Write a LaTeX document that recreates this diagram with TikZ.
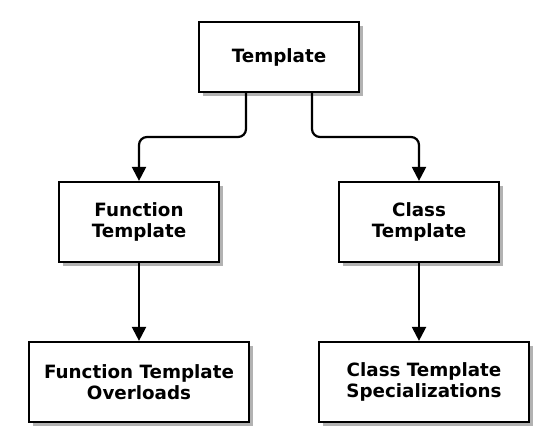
\documentclass[tikz,border=0pt]{standalone}
\usepackage{fontspec}
\setmainfont{DejaVu Sans}
\usetikzlibrary{arrows.meta,shadows}
\tikzset{
  box/.style={draw=black, line width=2.2pt, fill=white, align=center,
    font=\bfseries\fontsize{18.3}{21.5}\selectfont, inner sep=0pt,
    drop shadow={shadow xshift=4pt, shadow yshift=-4pt, fill=black!30, opacity=1}},
  arr/.style={line width=2.2pt, -{Triangle[length=14pt,width=14pt]}},
}
\begin{document}
\begin{tikzpicture}[x=1pt,y=-1pt]
\useasboundingbox[fill=white] (0,0) rectangle (548,441);
\node[box, minimum width=160pt, minimum height=70pt] (tpl) at (279,57) {Template};
\node[box, minimum width=160pt, minimum height=80pt] (ft) at (139,222) {Function\\Template};
\node[box, minimum width=160pt, minimum height=80pt] (ct) at (419,222) {Class\\Template};
\node[box, minimum width=220pt, minimum height=80pt] (fto) at (139,382) {Function Template\\Overloads};
\node[box, minimum width=210pt, minimum height=80pt] (cts) at (424,382) {Class Template\\Specializations};
\coordinate (l1) at (246,137);
\coordinate (r1) at (312,137);
\draw[arr, rounded corners=8pt] (tpl.south -| l1) -- (l1) -| (ft.north);
\draw[arr, rounded corners=8pt] (tpl.south -| r1) -- (r1) -| (ct.north);
\draw[arr] (ft.south) -- (fto.north);
\draw[arr] (ct.south) -- (ct.south |- cts.north);
\end{tikzpicture}
\end{document}
